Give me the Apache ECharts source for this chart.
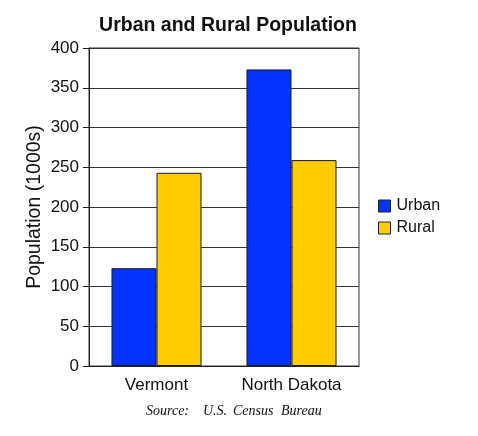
<!DOCTYPE html>
<html>
<head>
<meta charset="utf-8">
<script src="https://cdn.jsdelivr.net/npm/echarts@6/dist/echarts.min.js"></script>
<style>html,body{margin:0;padding:0;background:#fff}#c{width:478px;height:436px}</style>
</head>
<body>
<div id="c"></div>
<script>
const categories = ['Vermont', 'North Dakota'];
const urban = [123, 373];
const rural = [243, 259];
const seriesNames = ['Urban', 'Rural'];
const sourceWords = ['Source:', 'U.S.', 'Census', 'Bureau'];

const chart = echarts.init(document.getElementById('c'), null, {renderer: 'canvas'});
const font = 'Liberation Sans, Arial, sans-serif';
const srcX = [146, 203, 233, 281];
chart.setOption({
  animation: false,
  backgroundColor: '#fff',
  title: {
    text: 'Urban and Rural Population',
    left: 223, top: 11, textAlign: 'center',
    textStyle: {fontFamily: font, fontSize: 19.5, fontWeight: 'bold', color: '#111'}
  },
  legend: {
    orient: 'vertical', left: 373, top: 193, icon: 'rect',
    itemWidth: 12, itemHeight: 12, itemGap: 6,
    data: seriesNames,
    textStyle: {fontFamily: font, fontSize: 16, color: '#111', padding: [0,0,0,1]},
    itemStyle: {borderColor: '#222', borderWidth: 1}
  },
  grid: {left: 89, right: 119, top: 48, bottom: 70, show: true, borderColor: '#333', borderWidth: 1},
  xAxis: {
    type: 'category', data: categories,
    axisLine: {lineStyle: {color: '#222'}},
    axisTick: {length: 6, lineStyle: {color: '#222'}},
    axisLabel: {fontFamily: font, fontSize: 17, color: '#111', margin: 11}
  },
  yAxis: {
    type: 'value', min: 0, max: 400, interval: 50,
    name: 'Population (1000s)', nameLocation: 'middle', nameGap: 44, nameMoveOverlap: false,
    nameTextStyle: {fontFamily: font, fontSize: 19.5, color: '#111'},
    axisLine: {show: true, lineStyle: {color: '#222'}},
    axisTick: {show: true, length: 6, lineStyle: {color: '#222'}},
    axisLabel: {fontFamily: font, fontSize: 17, color: '#111', margin: 10},
    splitLine: {lineStyle: {color: '#333'}}
  },
  series: [
    {name: seriesNames[0], type: 'bar', data: urban, barGap: '0%', barCategoryGap: '33.3%',
     itemStyle: {color: '#0433FF', borderColor: '#1a1a1a', borderWidth: 1}},
    {name: seriesNames[1], type: 'bar', data: rural, barGap: '0%', barCategoryGap: '33.3%',
     itemStyle: {color: '#FFCC00', borderColor: '#1a1a1a', borderWidth: 1}}
  ],
  graphic: sourceWords.map((w, i) => ({
    type: 'text', left: srcX[i], top: 404,
    style: {text: w, font: 'italic 14px "Liberation Serif", serif', fill: '#111'}
  }))
});
</script>
</body>
</html>
